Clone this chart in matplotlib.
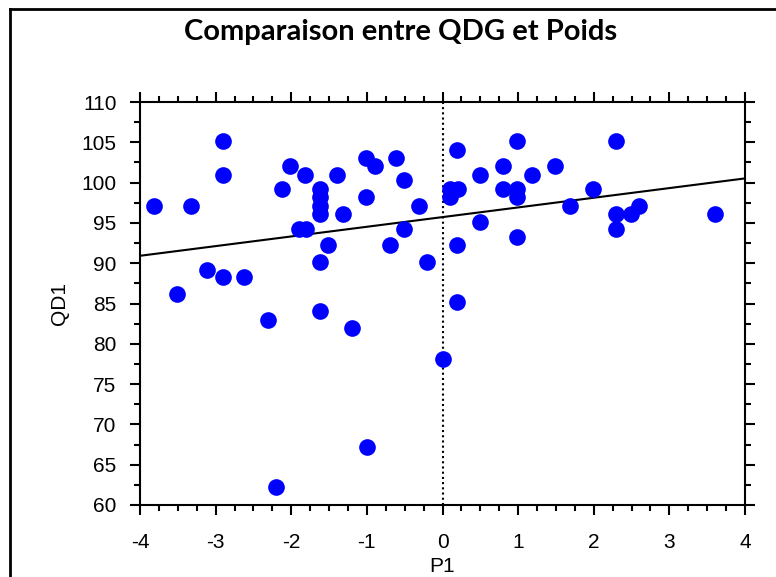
import matplotlib
matplotlib.use("Agg")
import matplotlib.pyplot as plt
import numpy as np
from matplotlib.lines import Line2D
from matplotlib.ticker import MultipleLocator

# values
p1 = [
    -3.81, -3.51, -3.32, -3.12, -2.90, -2.90, -2.90, -2.62, -2.31, -2.20,
    -2.12, -2.01, -1.90, -1.81, -1.82, -1.62, -1.62, -1.62, -1.62, -1.62,
    -1.62, -1.51, -1.40, -1.31, -1.20, -1.01, -1.01, -1.00, -0.89, -0.70,
    -0.62, -0.51, -0.51, -0.31, -0.20, 0.00, 0.10, 0.10, 0.19, 0.20,
    0.19, 0.19, 0.49, 0.49, 0.80, 0.80, 0.99, 0.99, 0.99, 0.99,
    1.19, 1.49, 1.69, 1.99, 2.29, 2.29, 2.29, 2.49, 2.60, 3.60,
]
qd1 = [
    97.1, 86.2, 97.1, 89.1, 105.2, 101.0, 88.25, 88.25, 83.0, 62.2,
    99.2, 102.0, 94.2, 94.2, 101.0, 99.2, 98.2, 97.1, 96.1, 90.15,
    84.1, 92.2, 101.0, 96.1, 82.0, 103.1, 98.2, 67.2, 102.0, 92.2,
    103.1, 100.3, 94.2, 97.1, 90.15, 78.1, 99.2, 98.2, 104.1, 99.2,
    92.2, 85.15, 101.0, 95.1, 102.0, 99.2, 105.2, 99.2, 98.2, 93.25,
    101.0, 102.0, 97.1, 99.2, 105.2, 96.1, 94.2, 96.1, 97.1, 96.1,
]

title = "Comparaison entre QDG et Poids"
x_label = "P1"
y_label = "QD1"

x = np.array(p1)
y = np.array(qd1)
slope, intercept = np.polyfit(x, y, 1)

plt.rcParams["font.family"] = ["Liberation Sans", "DejaVu Sans"]
plt.rcParams["axes.unicode_minus"] = False

fig = plt.figure(figsize=(7.76, 5.77), dpi=100)
ax = fig.add_axes([140 / 776, 72 / 577, 605 / 776, 403 / 577])

ax.axvline(0, color="black", linestyle=(0, (1, 1.5)), linewidth=1.5, zorder=1)
xs = np.array([-4, 4])
ax.plot(xs, intercept + slope * xs, color="black", linewidth=1.5, zorder=2)
ax.plot(x, y, "o", color="#0000ff", markersize=12, markeredgewidth=0, zorder=3)

ax.set_xlim(-4, 4)
ax.set_ylim(60, 110)
ax.xaxis.set_major_locator(MultipleLocator(1))
ax.xaxis.set_minor_locator(MultipleLocator(0.25))
ax.yaxis.set_major_locator(MultipleLocator(5))
ax.yaxis.set_minor_locator(MultipleLocator(2.5))

for spine in ax.spines.values():
    spine.set_linewidth(1.5)
ax.tick_params(which="both", direction="out", top=True, right=True, width=1.5)
ax.tick_params(which="major", length=7, labelsize=15)
ax.tick_params(which="minor", length=4)
ax.tick_params(axis="x", which="major", pad=13)
ax.tick_params(axis="y", which="major", pad=10)

ax.set_xlabel(x_label, fontsize=15, labelpad=4)
ax.set_ylabel(y_label, fontsize=15, labelpad=9)

fig.text(0.516, 0.945, title, ha="center", va="center", fontsize=21,
         fontweight="bold", family=["Lato", "DejaVu Sans"])

# outer frame (left and top edges only visible in the crop)
fx, fy = 10 / 776, 1 - 9 / 577
fig.add_artist(Line2D([fx, fx], [0, fy], color="black", linewidth=2))
fig.add_artist(Line2D([fx, 1], [fy, fy], color="black", linewidth=2))

fig.savefig("out.png", dpi=100)
